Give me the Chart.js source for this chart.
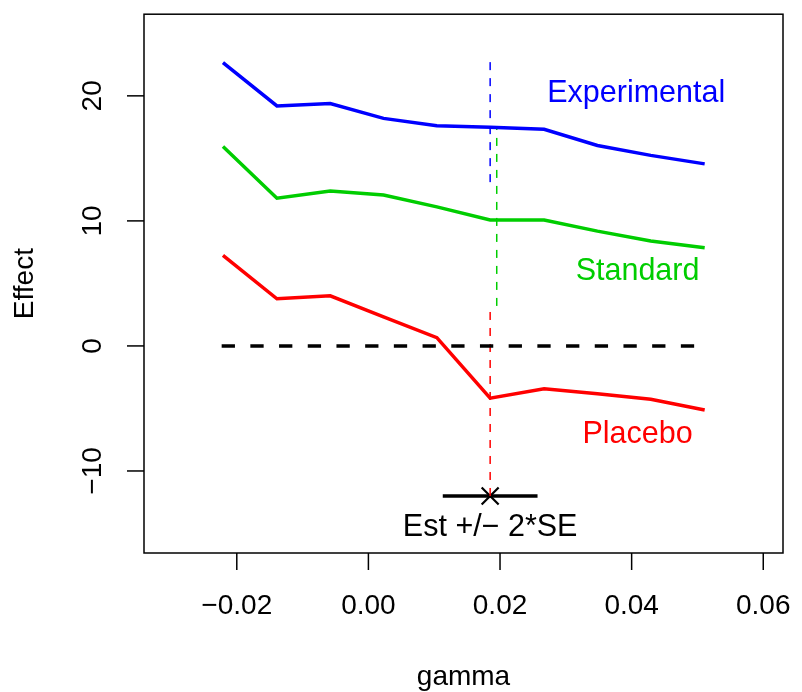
<!DOCTYPE html>
<html>
<head>
<meta charset="utf-8">
<script src="https://cdn.jsdelivr.net/npm/chart.js@4.4.1/dist/chart.umd.min.js"></script>
<style>
  html, body { margin: 0; padding: 0; background: #fff; }
  #wrap { width: 802px; height: 692px; }
</style>
</head>
<body>
<div id="wrap"><canvas id="effectChart" width="802" height="692"></canvas></div>
<script>
// values
const gamma = [-0.0221, -0.0139, -0.0058, 0.0023, 0.0104, 0.0185, 0.0267, 0.0348, 0.0429, 0.0511];
const experimental = [22.66, 19.19, 19.38, 18.20, 17.61, 17.48, 17.33, 16.03, 15.24, 14.56];
const standard = [15.95, 11.81, 12.39, 12.07, 11.12, 10.07, 10.07, 9.18, 8.39, 7.86];
const placebo = [7.25, 3.77, 4.01, 2.32, 0.66, -4.18, -3.43, -3.83, -4.27, -5.12];

// estimate marks (x, lower, upper) for each arm
const estX = [0.0185, 0.0195, 0.0185];
const estLow = [13.1, 3.2, -12.0];
const estHigh = [22.8, 17.35, 2.9];
const estMid = -12.0;
const estBar = [0.0113, 0.0257];
const zeroLine = [-0.0223, 0.0497];

const xTicks = [-0.02, 0.00, 0.02, 0.04, 0.06];
const yTicks = [-10, 0, 10, 20];
const xRange = [-0.0341, 0.0630];
const yRange = [-16.56, 26.53];

const armNames = ['Experimental', 'Standard', 'Placebo'];
const armLabelX = [0.0407, 0.0409, 0.0409];
const armLabelY = [20.2, 5.96, -7.1];

const colors = {
    blue: '#0000FF',
    green: '#00CD00',
    red: '#FF0000',
    black: '#000000'
};
const armColors = [colors.blue, colors.green, colors.red];
const FONT = '"Liberation Sans", Arial, Helvetica, sans-serif';

const minus = s => s.replace('-', '\u2212');

function seg(x0, y0, x1, y1) {
    return [{ x: x0, y: y0 }, { x: x1, y: y1 }];
}

const datasets = [
    { data: gamma.map((g, i) => ({ x: g, y: experimental[i] })), borderColor: colors.blue, borderWidth: 3.5 },
    { data: gamma.map((g, i) => ({ x: g, y: standard[i] })), borderColor: colors.green, borderWidth: 3.5 },
    { data: gamma.map((g, i) => ({ x: g, y: placebo[i] })), borderColor: colors.red, borderWidth: 3.5 },
    { data: seg(zeroLine[0], 0, zeroLine[1], 0), borderColor: colors.black, borderWidth: 3.5, borderDash: [13.3, 15.4] }
];
estX.forEach((x, i) => {
    datasets.push({ data: seg(x, estLow[i], x, estHigh[i]), borderColor: armColors[i], borderWidth: 1.5, borderDash: [8, 8] });
});
datasets.push({ data: seg(estBar[0], estMid, estBar[1], estMid), borderColor: colors.black, borderWidth: 3.5 });
datasets.push({
    data: [{ x: estX[2], y: estMid }],
    showLine: false,
    pointStyle: 'crossRot',
    pointRadius: 12,
    borderColor: colors.black,
    borderWidth: 2.2
});
datasets.forEach(d => {
    d.fill = false;
    d.tension = 0;
    if (d.pointRadius === undefined) d.pointRadius = 0;
});

// R style box, ticks and texts
const rAxes = {
    id: 'rAxes',
    afterDraw(chart) {
        const ctx = chart.ctx;
        const a = chart.chartArea;
        const xs = chart.scales.x;
        const ys = chart.scales.y;
        ctx.save();
        ctx.strokeStyle = '#000';
        ctx.lineWidth = 1.5;
        ctx.strokeRect(a.left, a.top, a.right - a.left, a.bottom - a.top);

        ctx.fillStyle = '#000';
        ctx.font = '28px ' + FONT;
        ctx.textAlign = 'center';
        ctx.textBaseline = 'middle';
        xTicks.forEach(v => {
            const px = xs.getPixelForValue(v);
            ctx.beginPath();
            ctx.moveTo(px, a.bottom);
            ctx.lineTo(px, a.bottom + 17);
            ctx.stroke();
            ctx.fillText(minus(v.toFixed(2)), px, a.bottom + 53);
        });
        yTicks.forEach(v => {
            const py = ys.getPixelForValue(v);
            ctx.beginPath();
            ctx.moveTo(a.left - 17, py);
            ctx.lineTo(a.left, py);
            ctx.stroke();
            ctx.save();
            ctx.translate(a.left - 51, py);
            ctx.rotate(-Math.PI / 2);
            ctx.fillText(minus(String(v)), 0, 0);
            ctx.restore();
        });

        ctx.fillText('gamma', (a.left + a.right) / 2, 677);
        ctx.save();
        ctx.translate(25, (a.top + a.bottom) / 2);
        ctx.rotate(-Math.PI / 2);
        ctx.fillText('Effect', 0, 0);
        ctx.restore();

        ctx.font = '30.5px ' + FONT;
        armNames.forEach((name, i) => {
            ctx.fillStyle = armColors[i];
            ctx.fillText(name, xs.getPixelForValue(armLabelX[i]), ys.getPixelForValue(armLabelY[i]));
        });
        ctx.fillStyle = '#000';
        ctx.fillText('Est +/\u2212 2*SE', xs.getPixelForValue(estX[2]), ys.getPixelForValue(-14.5));
        ctx.restore();
    }
};

new Chart(document.getElementById('effectChart'), {
    type: 'line',
    data: { datasets: datasets },
    options: {
        responsive: false,
        animation: false,
        devicePixelRatio: 1,
        layout: { padding: { left: 144, top: 8, right: 19, bottom: 139 } },
        plugins: { legend: { display: false }, tooltip: { enabled: false } },
        scales: {
            x: { type: 'linear', min: xRange[0], max: xRange[1], display: false },
            y: { type: 'linear', min: yRange[0], max: yRange[1], display: false }
        }
    },
    plugins: [rAxes]
});
</script>
</body>
</html>
